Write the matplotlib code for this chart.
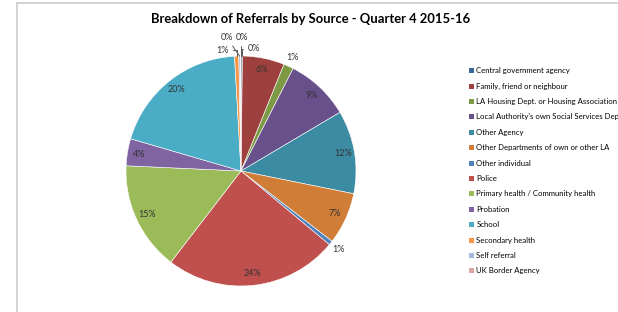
import numpy as np
import matplotlib
matplotlib.use("Agg")
import matplotlib.pyplot as plt
from matplotlib.lines import Line2D
from matplotlib.patches import Rectangle

categories = [
    "Central government agency",
    "Family, friend or neighbour",
    "LA Housing Dept. or Housing Association",
    "Local Authority's own Social Services Dept",
    "Other Agency",
    "Other Departments of own or other LA",
    "Other individual",
    "Police",
    "Primary health / Community health",
    "Probation",
    "School",
    "Secondary health",
    "Self referral",
    "UK Border Agency",
]
values = [0.2, 5.9, 1.4, 9.0, 11.7, 7.3, 0.6, 24.4, 15.3, 3.8, 19.6, 0.6, 0.2, 0.1]
colors = ["#3C6699", "#9E413E", "#7E9A45", "#68508A", "#3B8BA3", "#D07E37",
          "#4F81BD", "#C0504D", "#9BBB59", "#8064A2", "#4BACC6", "#F79646",
          "#A7B9DB", "#D9A5A4"]
title = "Breakdown of Referrals by Source - Quarter 4 2015-16"

FONT = "Lato"
W, H = 618, 312
fig = plt.figure(figsize=(W / 100, H / 100), dpi=100)
fig.patch.set_facecolor("white")

# chart-area border (top and left visible)
fig.add_artist(Line2D([16.5 / W, 1], [1 - 2.5 / H, 1 - 2.5 / H], color="#D0D0D0", lw=1.3))
fig.add_artist(Line2D([16.5 / W, 16.5 / W], [0, 1 - 2.5 / H], color="#D0D0D0", lw=1.3))

fig.text(311 / W, 1 - 19 / H, title, ha="center", va="center",
         fontsize=9.4, fontweight="bold", family=FONT, color="black")

cx, cy, R = 241, 171, 115
ax = fig.add_axes([(cx - R) / W, (H - cy - R) / H, 2 * R / W, 2 * R / H])

total = sum(values)
pct = [v / total * 100 for v in values]
wedges, _ = ax.pie(values, colors=colors, startangle=90, counterclock=False,
                   radius=1, wedgeprops=dict(edgecolor="white", linewidth=0.4))
ax.set_xlim(-1, 1)
ax.set_ylim(-1, 1)
ax.set_aspect("equal")
ax.axis("off")

cum = np.cumsum([0] + pct)
mids = (cum[:-1] + cum[1:]) / 2

def polar(frac, r):
    th = np.deg2rad(90 - frac * 3.6)
    return r * np.cos(th), r * np.sin(th)

txtcol = "#333333"
FS = 6.5
inside = {1, 3, 4, 5, 7, 8, 9, 10}
for i in inside:
    x, y = polar(mids[i], 0.9)
    ax.text(x, y, f"{round(pct[i]):d}%", ha="center", va="center",
            fontsize=FS, family=FONT, color=txtcol)

# simple outside labels
for i in (2, 6):
    x, y = polar(mids[i], 1.085)
    ax.text(x, y, f"{round(pct[i]):d}%", ha="center", va="center",
            fontsize=FS, family=FONT, color=txtcol, clip_on=False)

# crowded labels at the top, with leader lines
lead = {11: ((-0.16, 1.052), "angle,angleA=0,angleB=90"),
        12: ((-0.124, 1.16), "arc3,rad=0"),
        13: ((0.01, 1.16), "angle,angleA=0,angleB=90"),
        0: ((0.11, 1.061), "angle,angleA=0,angleB=90")}
for i, (pos, cs) in lead.items():
    xy = polar(mids[i], 1.0)
    ax.annotate(f"{round(pct[i]):d}%", xy=xy, xytext=pos, ha="center", va="center",
                fontsize=FS, family=FONT, color=txtcol, annotation_clip=False,
                arrowprops=dict(arrowstyle="-", color="#595959", lw=0.7,
                                connectionstyle=cs, shrinkA=1.0, shrinkB=0))

# legend
lx, ly0, dy = 468.5, 70.7, 15.4
for k, (lab, col) in enumerate(zip(categories, colors)):
    yy = ly0 + k * dy
    fig.add_artist(Rectangle(((lx) / W, 1 - (yy + 2.5) / H), 5 / W, 5 / H,
                             transform=fig.transFigure, facecolor=col, edgecolor="none"))
    fig.text((lx + 8) / W, 1 - yy / H, lab, ha="left", va="center",
             fontsize=5.6, family=FONT, color="black")

fig.savefig("out.png", dpi=100)
